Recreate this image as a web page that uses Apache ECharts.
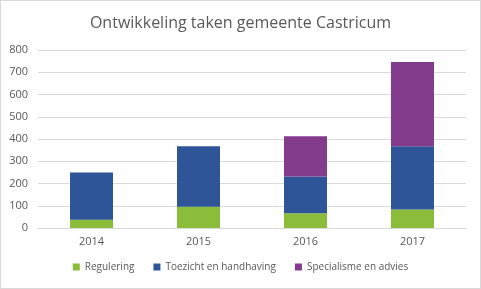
<!DOCTYPE html>
<html><head><meta charset="utf-8">
<script src="https://cdn.jsdelivr.net/npm/echarts@6/dist/echarts.min.js"></script>
<style>html,body{margin:0;padding:0;background:#fff}#c{width:479px;height:287px;border:1px solid #d9d9d9}</style>
</head><body><div id="c"></div>
<script>
const categories = ['2014','2015','2016','2017'];
const regulering = [37, 96, 66, 83];
const toezicht = [213, 271, 166, 284];
const specialisme = [0, 0, 180, 379];
const seriesNames = ['Regulering','Toezicht en handhaving','Specialisme en advies'];
const colors = ['#8bbd3a','#2e5597','#833c8b'];
const chart = echarts.init(document.getElementById('c'));
const font = '"Open Sans", "Liberation Sans", sans-serif';
chart.setOption({
  animation:false,
  textStyle:{fontFamily:font},
  title:{text:'Ontwikkeling taken gemeente Castricum',left:'center',top:9,
    textStyle:{fontSize:16,fontWeight:'normal',color:'#595959',fontFamily:font}},
  legend:{bottom:11,left:'center',itemWidth:7,itemHeight:7,itemGap:19,icon:'rect',
    textStyle:{fontSize:10,color:'#595959',fontFamily:font},data:seriesNames},
  grid:{left:37,right:14,top:49,bottom:60},
  xAxis:{type:'category',data:categories,axisTick:{show:false},
    axisLine:{lineStyle:{color:'#d9d9d9'}},
    axisLabel:{color:'#595959',fontSize:11,margin:8}},
  yAxis:{type:'value',min:0,max:800,interval:100,
    axisLabel:{color:'#595959',fontSize:11,margin:10},
    splitLine:{lineStyle:{color:'#d9d9d9'}},axisLine:{show:false}},
  series:[
    {name:seriesNames[0],type:'bar',stack:'a',data:regulering,barWidth:43,itemStyle:{color:colors[0]}},
    {name:seriesNames[1],type:'bar',stack:'a',data:toezicht,barWidth:43,itemStyle:{color:colors[1]}},
    {name:seriesNames[2],type:'bar',stack:'a',data:specialisme,barWidth:43,itemStyle:{color:colors[2]}}
  ]
});
</script></body></html>
